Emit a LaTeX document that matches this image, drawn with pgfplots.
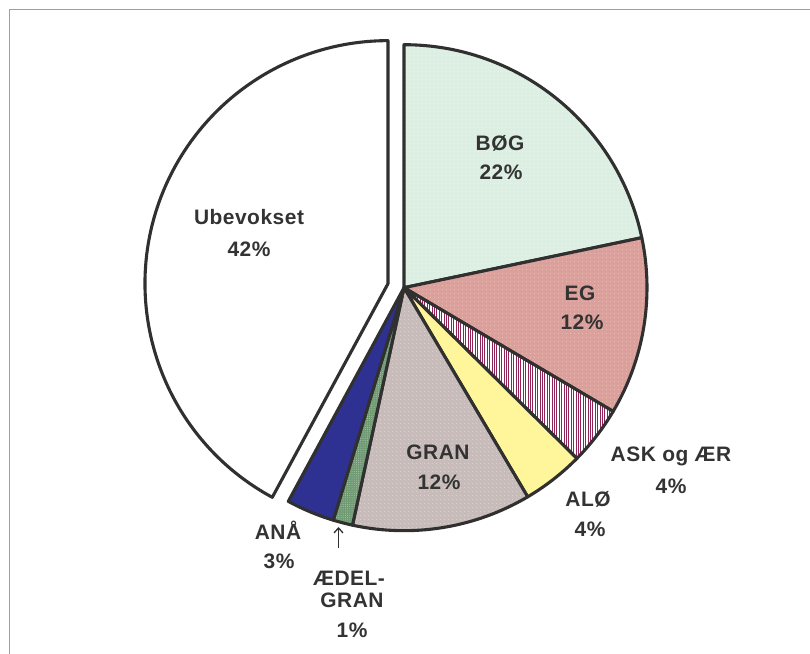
\documentclass[border=0pt]{standalone}
\usepackage{fontspec}
\setmainfont{Liberation Sans}
\usepackage{pgfplots}
\pgfplotsset{compat=1.18}
\usetikzlibrary{patterns.meta,arrows.meta}
\definecolor{bog}{HTML}{DCEFE2}
\definecolor{eg}{HTML}{D9A09C}
\definecolor{ask}{HTML}{8E2457}
\definecolor{alo}{HTML}{FFF59A}
\definecolor{gran}{HTML}{C8BCBA}
\definecolor{aedel}{HTML}{6F9A72}
\definecolor{ana}{HTML}{2E3192}
\definecolor{outl}{HTML}{303030}
\definecolor{txt}{HTML}{333333}
% shares in percent (clockwise from 12 o'clock)
\def\pBog{21.7}
\def\pEg{11.8}
\def\pAsk{3.9}
\def\pAlo{4.1}
\def\pGran{11.9}
\def\pAedel{1.3}
\def\pAna{3.2}
\def\pUbe{42.1}
\pgfmathsetmacro\aA{90}
\pgfmathsetmacro\aB{\aA-3.6*\pBog}
\pgfmathsetmacro\aC{\aB-3.6*\pEg}
\pgfmathsetmacro\aD{\aC-3.6*\pAsk}
\pgfmathsetmacro\aE{\aD-3.6*\pAlo}
\pgfmathsetmacro\aF{\aE-3.6*\pGran}
\pgfmathsetmacro\aG{\aF-3.6*\pAedel}
\pgfmathsetmacro\aH{\aG-3.6*\pAna}
\pgfmathsetmacro\aI{\aH-3.6*\pUbe}
\pgfmathsetmacro\aMid{(\aH+\aI)/2}
\def\cx{404}
\def\cy{366.3}
\def\R{243}
\def\off{16.5}
\pgfmathsetmacro\ux{\cx+\off*cos(\aMid)}
\pgfmathsetmacro\uy{\cy+\off*sin(\aMid)}
\newcommand\slice[4]{%
  \path[#1] (axis cs:#4) -- ++(#2:\R bp) arc[start angle=#2, end angle=#3, radius=\R bp] -- cycle;}
\tikzset{
  pie/.style={draw=outl, line width=3.1bp, line join=round},
  lab/.style={font=\bfseries\fontsize{21}{24}\selectfont\addfontfeature{LetterSpace=2.5}, text=txt, inner sep=0pt, anchor=center},
}
\begin{document}
\begin{tikzpicture}
\begin{axis}[
  scale only axis, width=810bp, height=654bp,
  xmin=0, xmax=810, ymin=0, ymax=654,
  hide axis, clip=false,
]
\draw[gray!75, line width=1bp] (axis cs:9,0) -- (axis cs:9,644) -- (axis cs:810,644);
\slice{pie, preaction={fill=bog}, pattern={Dots[distance=3.6bp, radius=0.45bp]}, pattern color=white!65!bog}{\aA}{\aB}{\cx,\cy}
\slice{pie, preaction={fill=eg}, pattern={Dots[distance=3.6bp, radius=0.45bp]}, pattern color=white!55!eg}{\aB}{\aC}{\cx,\cy}
\slice{pie, preaction={fill=white}, pattern={Lines[angle=90, distance=2.4bp, line width=1bp]}, pattern color=ask}{\aC}{\aD}{\cx,\cy}
\slice{pie, fill=alo}{\aD}{\aE}{\cx,\cy}
\slice{pie, preaction={fill=gran}, pattern={Dots[distance=3.6bp, radius=0.45bp]}, pattern color=white!55!gran}{\aE}{\aF}{\cx,\cy}
\slice{pie, preaction={fill=aedel}, pattern={Dots[distance=2.2bp, radius=0.5bp]}, pattern color=white!45!aedel}{\aF}{\aG}{\cx,\cy}
\slice{pie, fill=ana}{\aG}{\aH}{\cx,\cy}
\slice{pie, fill=white}{\aH}{\aI}{\ux,\uy}
% labels
\node[lab] at (axis cs:500,511) {BØG};
\node[lab] at (axis cs:501,482) {22\%};
\node[lab] at (axis cs:580,361) {EG};
\node[lab] at (axis cs:582,332) {12\%};
\node[lab] at (axis cs:249,437) {Ubevokset};
\node[lab] at (axis cs:249,405) {42\%};
\node[lab] at (axis cs:438,202) {GRAN};
\node[lab] at (axis cs:439,172) {12\%};
\node[lab] at (axis cs:671,198) {ASK og ÆR};
\node[lab] at (axis cs:671,168) {4\%};
\node[lab] at (axis cs:588,155) {ALØ};
\node[lab] at (axis cs:590,125) {4\%};
\node[lab] at (axis cs:278,124) {ANÅ};
\node[lab] at (axis cs:279,93) {3\%};
\node[lab] at (axis cs:349,76) {ÆDEL-};
\node[lab] at (axis cs:352,54) {GRAN};
\node[lab] at (axis cs:352,24) {1\%};
\draw[outl, line width=1.3bp, -{Straight Barb[length=5bp, width=9bp]}] (axis cs:338.5,105.7) -- (axis cs:338.5,127);
\end{axis}
\pgfresetboundingbox
\path (0,0) rectangle (810bp,654bp);
\end{tikzpicture}
\end{document}
